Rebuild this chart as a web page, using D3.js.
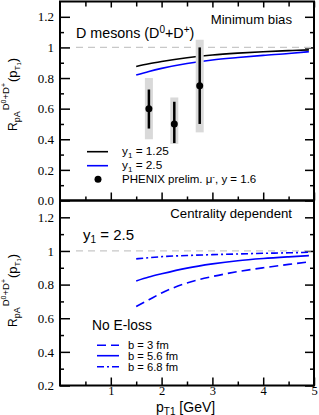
<!DOCTYPE html>
<html>
<head>
<meta charset="utf-8">
<script src="https://cdn.jsdelivr.net/npm/d3@7"></script>
<style>
  body { margin: 0; background: #fff; }
  .lbl { font-family: "Liberation Sans", Arial, sans-serif; fill: #000; }
</style>
</head>
<body>
<div id="chart"></div>
<script>
// ---- data ----
let ptGrid = [1.5, 1.75, 2, 2.5, 3, 3.5, 4, 4.5, 4.9];
let minBiasY125 = [0.875, 0.893, 0.908, 0.933, 0.951, 0.963, 0.972, 0.979, 0.984];
let minBiasY25  = [0.82, 0.843, 0.863, 0.895, 0.918, 0.934, 0.948, 0.96, 0.972];

let phenixPt  = [1.75, 2.25, 2.75];
let phenixR   = [0.6, 0.5, 0.75];
let phenixLo  = [0.47, 0.375, 0.5];
let phenixHi  = [0.725, 0.645, 1.0];
let phenixSysLo = [0.4, 0.37, 0.445];
let phenixSysHi = [0.8, 0.673, 1.05];

let centB3  = [0.67, 0.71, 0.75, 0.81, 0.848, 0.877, 0.9, 0.92, 0.935];
let centB56 = [0.822, 0.845, 0.864, 0.898, 0.923, 0.942, 0.955, 0.965, 0.972];
let centB68 = [0.953, 0.96, 0.966, 0.973, 0.978, 0.982, 0.986, 0.989, 0.992];

let xTicks = [1, 2, 3, 4, 5];

const W = 319, H = 415;
const svg = d3.select("#chart").append("svg").attr("width", W).attr("height", H);

const x = d3.scaleLinear().domain([0, 5]).range([60, 314]);
const yTop = d3.scaleLinear().domain([0, 1.3]).range([200.5, 1.5]);
const yBot = d3.scaleLinear().domain([0.2, 1.3]).range([385.5, 200.5]);

const fmt = d => (d === 1 ? "1" : d3.format(".1f")(d));

// draws the frame with inward major/minor ticks on all sides
function frame(y, majors, minors, showX, ticksTop, ticksBottom) {
    let g = svg.append("g");
    let [y0, y1] = y.range();
    let minorsX = d3.range(0.5, 5, 0.5).filter(v => v % 1 !== 0);
    g.append("g").attr("transform", `translate(${x(0)},0)`)
        .call(d3.axisLeft(y).tickValues(minors).tickSize(-4).tickFormat(""));
    g.append("g").attr("transform", `translate(${x(5)},0)`)
        .call(d3.axisRight(y).tickValues(minors).tickSize(-4).tickFormat(""));
    g.append("g").attr("transform", `translate(${x(0)},0)`)
        .call(d3.axisLeft(y).tickValues(majors).tickSize(-10).tickPadding(6).tickFormat(fmt));
    g.append("g").attr("transform", `translate(${x(5)},0)`)
        .call(d3.axisRight(y).tickValues(majors).tickSize(-9).tickFormat(""));
    if (ticksBottom) {
        g.append("g").attr("transform", `translate(0,${y0})`)
            .call(d3.axisBottom(x).tickValues(minorsX).tickSize(-4).tickFormat(""));
        g.append("g").attr("class", "xax").attr("transform", `translate(0,${y0})`)
            .call(d3.axisBottom(x).tickValues(xTicks).tickSize(-8).tickPadding(1)
                .tickFormat(showX ? d3.format("d") : ""));
    }
    if (ticksTop) {
        g.append("g").attr("transform", `translate(0,${y1})`)
            .call(d3.axisTop(x).tickValues(minorsX).tickSize(-5).tickFormat(""));
        g.append("g").attr("transform", `translate(0,${y1})`)
            .call(d3.axisTop(x).tickValues(xTicks).tickSize(-6).tickFormat(""));
    }
    g.selectAll(".domain").remove();
    g.selectAll(".tick line").attr("stroke", "#000").attr("stroke-width", 1.5);
    g.selectAll(".tick text")
        .attr("font-family", "'Liberation Serif', 'DejaVu Serif', serif")
        .attr("font-size", 13).attr("fill", "#000");
    g.selectAll(".xax .tick text").attr("font-size", 12.5);
    g.append("rect")
        .attr("x", x(0)).attr("y", y1)
        .attr("width", x(5) - x(0)).attr("height", y0 - y1)
        .attr("fill", "none").attr("stroke", "#000").attr("stroke-width", 2);
    // unity reference line
    g.append("line")
        .attr("x1", 76).attr("x2", x(5))
        .attr("y1", y(1)).attr("y2", y(1))
        .attr("stroke", "#c8c8c8").attr("stroke-width", 1.2)
        .attr("stroke-dasharray", "7,5");
    return g;
}

// rotated R_pA^{D0+D+}(p_T1) label, px = baseline, py = start (bottom)
function yLabel(px, py) {
    let t = svg.append("text").attr("class", "lbl")
        .attr("transform", `translate(${px},${py}) rotate(-90)`);
    t.append("tspan").attr("font-size", 12).text("R");
    t.append("tspan").attr("font-size", 9).attr("dy", 3).text("pA");
    t.append("tspan").attr("font-size", 9.5).attr("dx", 1).attr("dy", -11).text("D");
    t.append("tspan").attr("font-size", 7).attr("dy", -3).text("0");
    t.append("tspan").attr("font-size", 9.5).attr("dy", 3).text("+D");
    t.append("tspan").attr("font-size", 7).attr("dy", -3).text("+");
    t.append("tspan").attr("font-size", 13).attr("dx", 1).attr("dy", 11).text("(p");
    t.append("tspan").attr("font-size", 8).attr("dy", 3).text("T");
    t.append("tspan").attr("font-size", 6).attr("dy", 1).text("1");
    t.append("tspan").attr("font-size", 13).attr("dy", -4).text(")");
}

function text(px, py, size, str, anchor) {
    return svg.append("text").attr("class", "lbl")
        .attr("x", px).attr("y", py).attr("font-size", size)
        .attr("text-anchor", anchor || "start").text(str);
}

// ---------- top panel ----------
frame(yTop, d3.range(0, 1.21, 0.2), d3.range(0.1, 1.3, 0.2), false, true, true);

const lineTop = d3.line().x((d, i) => x(ptGrid[i])).y(d => yTop(d)).curve(d3.curveMonotoneX);
svg.append("path").datum(minBiasY125).attr("d", lineTop)
    .attr("fill", "none").attr("stroke", "#000").attr("stroke-width", 1.6);
svg.append("path").datum(minBiasY25).attr("d", lineTop)
    .attr("fill", "none").attr("stroke", "#0000ff").attr("stroke-width", 1.6);

let pts = phenixPt.map((p, i) => ({p, r: phenixR[i], lo: phenixLo[i], hi: phenixHi[i],
    slo: phenixSysLo[i], shi: phenixSysHi[i]}));
let pg = svg.append("g").selectAll("g").data(pts).enter().append("g");
pg.append("rect")
    .attr("x", d => x(d.p) - 4).attr("width", 8)
    .attr("y", d => yTop(d.shi)).attr("height", d => yTop(d.slo) - yTop(d.shi))
    .attr("fill", "#d9d9d9");
pg.append("line")
    .attr("x1", d => x(d.p)).attr("x2", d => x(d.p))
    .attr("y1", d => yTop(d.hi)).attr("y2", d => yTop(d.lo))
    .attr("stroke", "#000").attr("stroke-width", 2.5);
pg.append("circle")
    .attr("cx", d => x(d.p)).attr("cy", d => yTop(d.r)).attr("r", 3.5).attr("fill", "#000");

// labels top
let t1 = text(76, 38, 14.3, "D mesons (D");
t1.append("tspan").attr("font-size", 10).attr("dy", -5).text("0");
t1.append("tspan").attr("dy", 5).text("+D");
t1.append("tspan").attr("font-size", 10).attr("dy", -5).text("+");
t1.append("tspan").attr("dy", 5).text(")");
text(292, 24, 13.2, "Minimum bias", "end");

svg.append("line").attr("x1", 87).attr("x2", 108).attr("y1", 151.7).attr("y2", 151.7)
    .attr("stroke", "#000").attr("stroke-width", 1.6);
svg.append("line").attr("x1", 87).attr("x2", 108).attr("y1", 165.7).attr("y2", 165.7)
    .attr("stroke", "#0000ff").attr("stroke-width", 1.6);
svg.append("circle").attr("cx", 98).attr("cy", 179.3).attr("r", 3.5).attr("fill", "#000");
let l1 = text(122, 155, 11.8, "y");
l1.append("tspan").attr("font-size", 8).attr("dy", 3).text("1");
l1.append("tspan").attr("dy", -3).text(" = 1.25");
let l2 = text(122, 169, 11.8, "y");
l2.append("tspan").attr("font-size", 8).attr("dy", 3).text("1");
l2.append("tspan").attr("dy", -3).text(" = 2.5");
let l3 = text(122, 183, 11.5, "PHENIX prelim. \u03bc");
l3.append("tspan").attr("font-size", 8).attr("dy", -4).text("-");
l3.append("tspan").attr("dy", 4).text(", y = 1.6");

yLabel(17, 131);

// ---------- bottom panel ----------
frame(yBot, d3.range(0.2, 1.21, 0.2), d3.range(0.3, 1.3, 0.2), true, false, true);

const lineBot = d3.line().x((d, i) => x(ptGrid[i])).y(d => yBot(d)).curve(d3.curveMonotoneX);
let bottomSeries = [
    {vals: centB3, dash: "9,5"},
    {vals: centB56, dash: null},
    {vals: centB68, dash: "7,3,2,3"}
];
svg.append("g").selectAll("path").data(bottomSeries).enter().append("path")
    .attr("d", d => lineBot(d.vals))
    .attr("fill", "none").attr("stroke", "#0000ff").attr("stroke-width", 1.6)
    .attr("stroke-dasharray", d => d.dash);

text(292, 218, 13.2, "Centrality dependent", "end");
let yb = text(83, 240, 15, "y");
yb.append("tspan").attr("font-size", 10).attr("dy", 3).text("1");
yb.append("tspan").attr("dy", -3).text(" = 2.5");
text(92, 330, 13.8, "No E-loss");

let legB = ["b = 3 fm", "b = 5.6 fm", "b = 6.8 fm"];
let legBy = [345.3, 355.7, 366.7];
legB.forEach((s, i) => {
    svg.append("line").attr("x1", 97).attr("x2", 119).attr("y1", legBy[i]).attr("y2", legBy[i])
        .attr("stroke", "#0000ff").attr("stroke-width", 1.6)
        .attr("stroke-dasharray", bottomSeries[i].dash);
    text(128, legBy[i] + 3.8, 11.2, s);
});

yLabel(17, 327);

// x label
let xl = text(156, 411.5, 14, "p");
xl.append("tspan").attr("font-size", 10).attr("dy", 3).text("T1");
xl.append("tspan").attr("dy", -3).text(" [GeV]");
</script>
</body>
</html>
